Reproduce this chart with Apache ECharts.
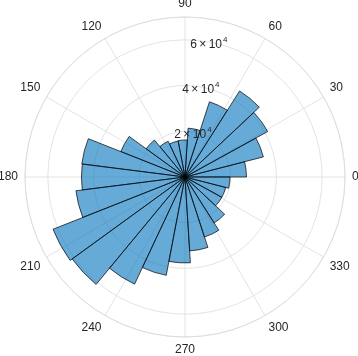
<!DOCTYPE html>
<html>
<head>
<meta charset="utf-8">
<script src="https://cdn.jsdelivr.net/npm/echarts@6/dist/echarts.min.js"></script>
<style>
html, body { margin: 0; padding: 0; background: #fff; }
#chart { width: 358px; height: 356px; }
</style>
</head>
<body>
<div id="chart"></div>
<script>
// bin start angles (deg), 25 bins of 14.4 deg
var binStarts = [0, 14.4, 28.8, 43.2, 57.6, 72, 86.4, 100.8, 115.2, 129.6, 144, 158.4, 172.8,
    187.2, 201.6, 216, 230.4, 244.8, 259.2, 273.6, 288, 302.4, 316.8, 331.2, 345.6];
// counts per bin
var counts = [26900, 35400, 41300, 44600, 34600, 21400, 16200, 16000, 17300, 21000, 30200, 45500, 45300,
    48100, 62100, 61000, 51800, 43800, 37600, 32400, 27600, 23800, 18400, 18400, 19700];
var radiusTicks = [20000, 40000, 60000];
var rMax = 70000;

var font = 'Liberation Sans, Arial, Helvetica, sans-serif';
var gridColor = '#dcdcdc';
var center = [185, 177];
var radius = 160;

var myChart = echarts.init(document.getElementById('chart'), null, { renderer: 'canvas' });

var option = {
    animation: false,
    polar: [
        { center: center, radius: radius },
        { center: center, radius: radius },
        { center: center, radius: radius }
    ],
    angleAxis: [
        {
            // grid + degree labels
            polarIndex: 0,
            type: 'value',
            min: 0,
            max: 360,
            interval: 30,
            startAngle: 0,
            clockwise: false,
            axisLine: { show: true, lineStyle: { color: gridColor, width: 0.8 } },
            axisTick: { show: false },
            axisLabel: {
                margin: 7,
                color: '#262626',
                fontSize: 12,
                fontFamily: font,
                formatter: function (v) { return v === 360 ? '' : String(v); }
            },
            splitLine: { show: true, lineStyle: { color: gridColor, width: 0.8 } }
        },
        {
            // bins for the bars
            polarIndex: 1,
            type: 'category',
            data: binStarts,
            boundaryGap: true,
            startAngle: 0,
            clockwise: false,
            axisLine: { show: false },
            axisTick: { show: false },
            axisLabel: { show: false },
            splitLine: { show: false }
        },
        {
            // only used to place the r labels at 80 deg
            polarIndex: 2,
            type: 'value',
            min: 0,
            max: 360,
            startAngle: 80,
            axisLine: { show: false },
            axisTick: { show: false },
            axisLabel: { show: false },
            splitLine: { show: false }
        }
    ],
    radiusAxis: [
        {
            polarIndex: 0,
            type: 'value',
            min: 0,
            max: rMax,
            interval: 20000,
            axisLine: { show: false },
            axisTick: { show: false },
            axisLabel: { show: false },
            splitLine: { show: true, lineStyle: { color: gridColor, width: 0.8 } }
        },
        {
            polarIndex: 1,
            type: 'value',
            min: 0,
            max: rMax,
            axisLine: { show: false },
            axisTick: { show: false },
            axisLabel: { show: false },
            splitLine: { show: false }
        },
        {
            polarIndex: 2,
            type: 'value',
            min: 0,
            max: rMax,
            interval: 20000,
            z: 10,
            axisLine: { show: false },
            axisTick: { show: false },
            splitLine: { show: false },
            axisLabel: {
                show: true,
                margin: 0,
                align: 'center',
                verticalAlign: 'middle',
                padding: [6, 0, 0, 0],
                color: '#262626',
                fontSize: 12,
                fontFamily: font,
                formatter: function (v) {
                    if (radiusTicks.indexOf(v) < 0) return '';
                    return (v / 10000) + '\u2009×\u200910{sup|4}';
                },
                rich: {
                    sup: { fontSize: 8, fontFamily: font, color: '#262626', padding: [0, 0, 10, 1] }
                }
            }
        }
    ],
    series: [
        {
            type: 'bar',
            coordinateSystem: 'polar',
            polarIndex: 1,
            data: counts,
            barCategoryGap: '0%',
            itemStyle: {
                color: 'rgba(0, 114, 189, 0.6)',
                borderColor: '#000',
                borderWidth: 0.7
            }
        }
    ]
};

option && myChart.setOption(option);
</script>
</body>
</html>
